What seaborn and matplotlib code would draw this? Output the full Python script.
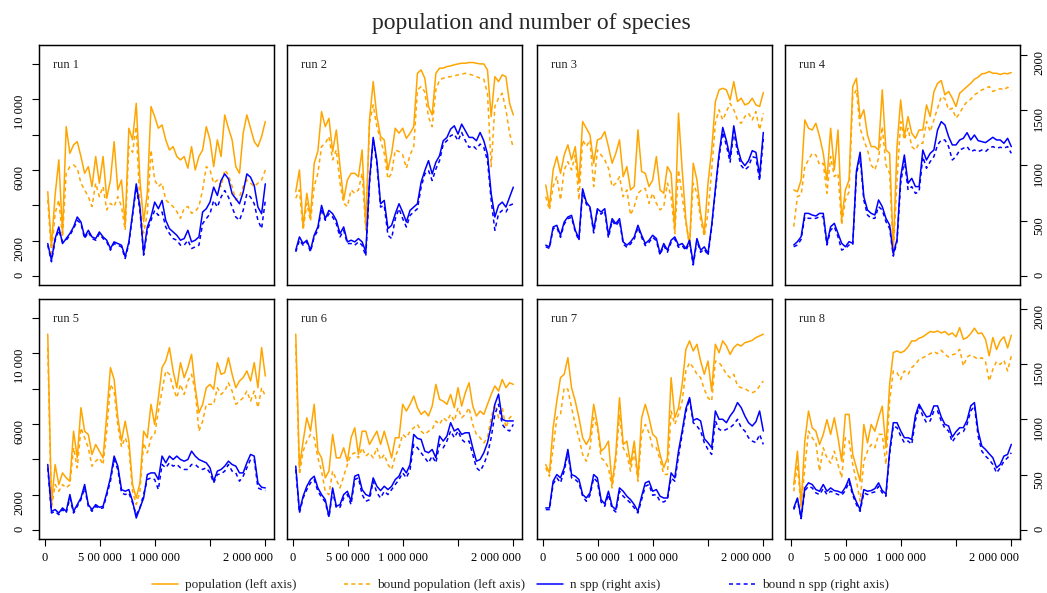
import numpy as np
import seaborn as sns
import matplotlib.pyplot as plt
from matplotlib.lines import Line2D
from matplotlib.transforms import ScaledTranslation

# values, evenly spaced from t = 25 000 to t = 2 000 000
# population (left axis)
pop_1 = [4770, 1660, 4590, 6570, 2415, 8450, 6940, 7420, 7600, 6760,
         5810, 6190, 5060, 6760, 5250, 6760, 4400, 5430, 7600, 4870,
         5430, 2890, 8360, 7700, 9770, 5430, 3080, 4680, 9590, 9020,
         8360, 8550, 7700, 7130, 7320, 6760, 6570, 6760, 6100, 7320,
         6000, 6760, 7130, 8450, 7700, 6190, 7700, 6760, 9110, 8360,
         7700, 6190, 5810, 8080, 9110, 8360, 7600, 7320, 7890, 8740]
pop_2 = [4770, 6000, 2790, 4680, 3360, 6380, 7060, 9300, 8450, 8920,
         7030, 8260, 6190, 4300, 5430, 5810, 5810, 5620, 7130, 2790,
         8830, 11000, 9020, 7890, 7700, 6000, 6940, 8360, 8080, 8360,
         7790, 8080, 8450, 11470, 11660, 11190, 9590, 9110, 11470, 11760,
         11760, 11850, 11890, 11950, 12000, 12040, 12040, 12080, 12080, 12040,
         12000, 12000, 11660, 9020, 11280, 11000, 11380, 11280, 9770, 9110]
pop_3 = [5150, 3930, 6000, 6760, 5810, 6850, 7420, 6570, 7320, 5250,
         8740, 8360, 7980, 6380, 7700, 7790, 8170, 7320, 6380, 6940,
         7700, 5620, 6190, 4870, 5060, 8270, 5910, 5810, 5060, 5430,
         6760, 4870, 4680, 6190, 5810, 2600, 9210, 6000, 3170, 1660,
         6380, 5430, 3550, 2420, 5250, 7130, 9870, 10530, 10620, 10530,
         9960, 11000, 9870, 10060, 9680, 9770, 10060, 9680, 9590, 10380]
pop_4 = [4870, 4770, 5430, 8830, 8360, 8260, 8640, 7890, 6940, 5430,
         8360, 6000, 8260, 3170, 4870, 5430, 10720, 11190, 8900, 9400,
         7980, 7320, 7320, 7130, 10530, 7130, 6940, 1500, 7320, 9960,
         7890, 9020, 8080, 7790, 8260, 8260, 9680, 9020, 10420, 10900,
         11060, 10250, 10440, 10060, 9590, 10340, 10530, 10720, 10900, 11130,
         11250, 11440, 11470, 11570, 11470, 11470, 11400, 11470, 11440, 11510]
pop_5 = [11080, 1440, 3700, 2570, 3230, 2950, 2760, 5590, 4080, 6920,
         5590, 5400, 4270, 4840, 4460, 4080, 6540, 9190, 8520, 6350,
         5030, 6160, 5030, 2570, 1810, 2660, 5590, 5220, 7110, 5970,
         7480, 9190, 9560, 10320, 9000, 8050, 9470, 8620, 9190, 9940,
         8050, 6630, 7110, 8050, 8240, 7960, 9470, 8810, 8900, 9750,
         8810, 8050, 8430, 8620, 9000, 8430, 9470, 8050, 10320, 8710]
pop_6 = [11080, 3520, 5030, 6350, 5600, 7110, 4460, 4080, 2950, 3330,
         5410, 4080, 4080, 4650, 3890, 5220, 5780, 4270, 5590, 5590,
         4840, 5220, 5590, 4840, 5590, 4840, 4080, 5220, 5220, 7110,
         6730, 7110, 7580, 6920, 6540, 6730, 6450, 7010, 8240, 7390,
         7290, 7110, 7670, 6920, 8050, 7010, 7770, 8330, 7010, 6450,
         6730, 6540, 7110, 7670, 8150, 7860, 8520, 8050, 8330, 8240]
pop_7 = [3700, 3230, 5790, 7290, 8620, 8810, 9750, 8050, 7290, 6350,
         5220, 4840, 5220, 7110, 5970, 4460, 4650, 5030, 2570, 4300,
         7480, 4840, 5030, 3700, 5030, 2950, 6350, 7110, 6350, 5410,
         5220, 4270, 3520, 4080, 8620, 6350, 6920, 8240, 10220, 10700,
         10130, 10510, 9560, 8810, 9560, 7860, 10510, 10030, 10700, 10410,
         9940, 10320, 10510, 10410, 10600, 10660, 10730, 10890, 10980, 11080]
pop_8 = [2570, 4460, 1440, 5030, 6730, 5780, 5590, 4840, 5410, 6240,
         5410, 6350, 5220, 3890, 6540, 6540, 4270, 3520, 2760, 5970,
         4930, 5970, 5590, 6350, 7010, 4650, 8240, 10040, 10130, 10030,
         10130, 10360, 10700, 10700, 10850, 10930, 11080, 11230, 11190, 11260,
         11150, 11230, 11040, 11150, 10930, 11450, 10790, 10890, 11110, 11420,
         11110, 11150, 10790, 9850, 10890, 10210, 10700, 10930, 10300, 11020]

# bound population (left axis)
bpop_1 = [4300, 1280, 3550, 4300, 2200, 5810, 6190, 6280, 6100, 5250,
          4870, 4490, 3930, 5250, 4490, 5060, 3740, 4110, 3930, 4490,
          3930, 2600, 7320, 7000, 8450, 3930, 2420, 3550, 7130, 5430,
          5060, 5250, 4300, 4110, 3930, 3640, 3260, 3830, 3930, 3550,
          3640, 3930, 4870, 6190, 6000, 5250, 5430, 5060, 6000, 5720,
          5060, 4300, 4490, 5060, 5430, 5250, 5060, 5250, 5430, 6000]
bpop_2 = [4400, 4870, 2600, 4110, 3100, 5060, 5810, 7320, 7510, 7890,
          6570, 7130, 5250, 4110, 3930, 4870, 4680, 4870, 5810, 2600,
          8640, 9680, 8450, 7700, 6940, 5500, 5810, 7130, 7040, 6850,
          6100, 6850, 7320, 10530, 10720, 10420, 9000, 8450, 10530, 11100,
          11190, 11250, 11280, 11320, 11380, 11420, 11470, 11420, 11360, 11280,
          11190, 11130, 10340, 6190, 9590, 10060, 10340, 9400, 8080, 7230]
bpop_3 = [4490, 3740, 5060, 5620, 4300, 6000, 6470, 6000, 6850, 4300,
          7700, 7320, 7700, 5060, 7130, 6850, 6570, 6100, 5060, 5250,
          5620, 4490, 4870, 3450, 3930, 4680, 4870, 4960, 4110, 4680,
          4110, 3740, 3930, 5250, 4490, 2400, 6000, 4490, 2990, 1800,
          5250, 4680, 3200, 2240, 3550, 6000, 8640, 9400, 8830, 9300,
          9770, 9400, 8830, 8640, 9020, 9210, 8830, 9300, 8270, 9210]
bpop_4 = [2790, 4490, 4590, 6190, 6570, 6940, 6850, 6280, 6380, 4680,
          6760, 5620, 5810, 2900, 4300, 4770, 10150, 10530, 8360, 7700,
          7130, 6280, 6000, 6660, 8450, 6280, 5810, 1300, 5430, 8740,
          7700, 8360, 7320, 7130, 7510, 7510, 8740, 8170, 8830, 9490,
          10150, 10030, 9400, 9490, 8930, 9210, 9590, 9870, 10000, 10250,
          10380, 10530, 10600, 10720, 10440, 10530, 10600, 10530, 10680, 10500]
bpop_5 = [10320, 1250, 2570, 2190, 2570, 2380, 2570, 4650, 3520, 5780,
          5220, 4650, 3610, 3890, 4080, 3700, 5590, 8240, 7860, 5900,
          4700, 5220, 4650, 2190, 1440, 2190, 4930, 4360, 5220, 5410,
          6730, 7860, 9000, 8810, 8050, 7480, 8240, 7670, 8430, 8810,
          7860, 5590, 6160, 7110, 7110, 7110, 8050, 7670, 7860, 8330,
          7860, 7110, 7290, 7480, 7860, 7290, 7860, 6920, 8050, 7580]
bpop_6 = [10510, 3140, 4460, 5030, 5410, 5220, 4080, 3330, 2190, 2000,
          3330, 2850, 2380, 3040, 3700, 4270, 4370, 4080, 4650, 4180,
          4370, 4080, 4650, 3970, 4270, 3700, 3420, 4180, 4650, 5410,
          5220, 5590, 5780, 5970, 5590, 5410, 5590, 5690, 6160, 5970,
          6350, 6160, 6540, 6160, 6920, 6350, 6540, 6920, 5970, 5410,
          5220, 4930, 5220, 6350, 7110, 6350, 6920, 5780, 6350, 6540]
bpop_7 = [3520, 3040, 4650, 6350, 6540, 8050, 7960, 6920, 5970, 5220,
          4270, 3890, 4650, 6350, 5780, 4080, 3890, 3520, 2380, 3890,
          6540, 4650, 4270, 3330, 4460, 2760, 5410, 5970, 5500, 4650,
          4650, 3990, 3140, 3140, 6730, 5970, 6540, 7290, 9000, 9470,
          9190, 8810, 8620, 7960, 7480, 7290, 9560, 9470, 9190, 8810,
          8620, 8810, 8150, 8050, 8010, 7860, 7770, 7860, 8150, 8430]
bpop_8 = [2190, 3700, 1250, 3520, 5590, 5220, 4930, 3330, 4650, 4080,
          3780, 4460, 3700, 2950, 5220, 5030, 3700, 2760, 1630, 3890,
          4460, 4840, 4650, 5410, 5410, 3700, 7300, 9000, 8900, 8520,
          9000, 8810, 9190, 9370, 9660, 9750, 9850, 9980, 10090, 9980,
          10170, 9940, 9790, 9910, 9980, 10220, 9280, 9790, 9910, 9790,
          9660, 9750, 9530, 8430, 9090, 9530, 9370, 9600, 9000, 9850]

# n spp (right axis)
nspp_1 = [294, 144, 339, 444, 294, 339, 384, 444, 534, 489,
          354, 414, 354, 339, 399, 354, 324, 249, 309, 294,
          279, 174, 309, 564, 834, 624, 204, 444, 534, 669,
          609, 684, 504, 429, 399, 369, 324, 339, 414, 309,
          324, 354, 579, 609, 669, 804, 729, 864, 924, 879,
          744, 699, 654, 759, 924, 894, 819, 624, 564, 834]
nspp_2 = [234, 354, 294, 324, 234, 369, 444, 639, 519, 594,
          564, 504, 384, 444, 309, 324, 309, 339, 309, 219,
          864, 1254, 1044, 654, 684, 429, 459, 564, 654, 579,
          489, 594, 624, 654, 849, 954, 1044, 924, 1029, 1089,
          1224, 1254, 1329, 1359, 1284, 1374, 1314, 1254, 1254, 1224,
          1299, 1224, 1104, 744, 534, 639, 669, 624, 714, 804]
nspp_3 = [279, 264, 444, 459, 369, 489, 534, 549, 414, 339,
          789, 669, 624, 414, 609, 579, 609, 369, 519, 474,
          519, 309, 279, 309, 354, 459, 369, 294, 324, 369,
          339, 204, 294, 234, 324, 354, 279, 294, 249, 324,
          114, 339, 234, 264, 204, 459, 789, 1104, 1344, 1224,
          1074, 1359, 1164, 1044, 999, 1044, 1134, 1119, 909, 1299]
nspp_4 = [281, 311, 356, 567, 567, 552, 543, 567, 567, 296,
          446, 477, 386, 296, 265, 311, 296, 950, 1120, 718,
          597, 567, 552, 688, 628, 522, 462, 200, 330, 899,
          1095, 839, 884, 809, 809, 1140, 1050, 1110, 1140, 1321,
          1397, 1367, 1261, 1186, 1186, 1231, 1246, 1297, 1231, 1276,
          1225, 1216, 1207, 1231, 1255, 1231, 1231, 1201, 1246, 1171]
nspp_5 = [593, 169, 185, 154, 200, 169, 321, 169, 230, 290,
          412, 230, 185, 230, 206, 215, 336, 472, 669, 578,
          366, 351, 366, 260, 109, 200, 290, 502, 517, 517,
          457, 669, 608, 669, 638, 669, 638, 623, 638, 714,
          669, 638, 623, 608, 563, 442, 533, 548, 578, 623,
          593, 578, 517, 517, 608, 684, 669, 427, 387, 381]
nspp_6 = [578, 169, 306, 396, 457, 487, 381, 321, 275, 124,
          381, 215, 230, 321, 351, 260, 487, 502, 366, 321,
          306, 472, 396, 357, 396, 366, 396, 457, 487, 563,
          517, 593, 865, 829, 820, 714, 699, 729, 654, 850,
          805, 850, 971, 896, 917, 865, 880, 880, 744, 623,
          638, 699, 790, 941, 1138, 1229, 1002, 987, 987, 987]
nspp_7 = [200, 200, 442, 502, 472, 563, 729, 502, 487, 457,
          321, 290, 336, 502, 472, 275, 236, 351, 215, 185,
          381, 351, 306, 275, 230, 169, 306, 427, 442, 351,
          366, 306, 290, 290, 517, 472, 714, 896, 1098, 1198,
          992, 1008, 987, 826, 790, 744, 1077, 1002, 1002, 971,
          1032, 1077, 1153, 1108, 1032, 971, 941, 980, 1077, 896]
nspp_8 = [200, 290, 109, 381, 427, 412, 366, 351, 412, 351,
          381, 357, 351, 336, 387, 466, 336, 254, 185, 366,
          351, 357, 375, 427, 357, 327, 714, 971, 971, 896,
          835, 835, 820, 1038, 1138, 1077, 1023, 1032, 1123, 1123,
          1023, 956, 941, 841, 890, 926, 926, 993, 1123, 1153,
          896, 760, 729, 690, 654, 563, 593, 669, 684, 775]

# bound n spp (right axis)
bnspp_1 = [279, 129, 324, 414, 309, 324, 369, 429, 504, 474,
           339, 399, 339, 324, 384, 339, 309, 234, 294, 279,
           264, 159, 294, 549, 804, 594, 189, 414, 504, 594,
           549, 579, 444, 384, 339, 324, 279, 279, 324, 249,
           264, 279, 474, 519, 564, 684, 624, 714, 774, 714,
           624, 534, 504, 594, 744, 714, 654, 504, 429, 684]
bnspp_2 = [219, 324, 279, 309, 219, 354, 414, 609, 504, 564,
           534, 474, 354, 414, 294, 294, 279, 309, 279, 180,
           834, 1239, 1014, 624, 639, 369, 339, 519, 609, 519,
           444, 549, 579, 609, 804, 924, 954, 864, 969, 1044,
           1194, 1224, 1269, 1284, 1224, 1299, 1224, 1164, 1179, 1149,
           1194, 1164, 1044, 684, 414, 564, 594, 579, 639, 654]
bnspp_3 = [265, 250, 430, 440, 350, 470, 520, 530, 400, 320,
           760, 650, 610, 390, 590, 560, 590, 345, 500, 455,
           500, 290, 260, 290, 335, 440, 350, 275, 305, 350,
           320, 190, 275, 215, 305, 335, 260, 275, 230, 305,
           100, 320, 215, 245, 185, 440, 770, 1070, 1300, 1180,
           1030, 1310, 1120, 1000, 960, 990, 1080, 1070, 860, 1240]
bnspp_4 = [265, 281, 332, 537, 522, 522, 522, 537, 537, 281,
           416, 446, 356, 235, 250, 281, 281, 920, 1080, 688,
           552, 522, 522, 628, 597, 492, 431, 180, 310, 839,
           1050, 778, 809, 748, 764, 1080, 975, 1035, 1080, 1186,
           1231, 1231, 1171, 1050, 1080, 1140, 1156, 1171, 1125, 1140,
           1125, 1140, 1125, 1156, 1171, 1156, 1165, 1156, 1171, 1110]
bnspp_5 = [563, 154, 169, 139, 185, 154, 290, 154, 215, 275,
           381, 215, 169, 215, 194, 200, 315, 442, 638, 548,
           336, 321, 336, 245, 139, 200, 321, 457, 472, 457,
           366, 593, 563, 608, 578, 593, 563, 548, 548, 593,
           593, 563, 548, 563, 517, 427, 502, 508, 533, 593,
           533, 517, 442, 487, 563, 638, 638, 381, 366, 357]
bnspp_6 = [548, 154, 290, 366, 427, 457, 351, 297, 254, 115,
           351, 200, 206, 290, 321, 230, 457, 472, 321, 260,
           275, 442, 336, 290, 351, 321, 366, 412, 457, 517,
           472, 548, 775, 744, 699, 654, 608, 669, 608, 775,
           744, 805, 896, 835, 896, 820, 790, 805, 684, 563,
           533, 593, 684, 835, 1047, 1138, 956, 911, 896, 956]
bnspp_7 = [185, 185, 417, 472, 427, 533, 696, 472, 457, 427,
           306, 260, 315, 472, 436, 254, 215, 321, 194, 163,
           351, 306, 275, 245, 200, 154, 275, 396, 412, 315,
           321, 260, 254, 275, 472, 442, 669, 865, 1068, 1190,
           971, 941, 896, 790, 729, 684, 987, 911, 896, 911,
           926, 956, 1002, 926, 896, 835, 805, 790, 865, 775]
bnspp_8 = [185, 275, 103, 357, 396, 381, 336, 321, 375, 321,
           351, 336, 321, 315, 357, 436, 315, 230, 169, 336,
           321, 336, 345, 396, 336, 306, 684, 941, 926, 850,
           790, 805, 775, 992, 1120, 1032, 971, 987, 1077, 1077,
           987, 920, 896, 796, 850, 880, 890, 956, 1077, 1123,
           850, 714, 669, 638, 593, 517, 563, 623, 654, 699]

run_names = ["run 1", "run 2", "run 3", "run 4", "run 5", "run 6", "run 7", "run 8"]
left_ticks = [0, 2000, 4000, 6000, 8000, 10000, 12000]
left_labels = ["0", "2000", "", "6000", "", "10 000", ""]
right_ticks = [0, 500, 1000, 1500, 2000]
right_labels = ["0", "500", "1000", "1500", "2000"]
x_ticks = [0, 500000, 1000000, 1500000, 2000000]
x_labels = ["0", "5 00 000", "1 000 000", "", "2 000 000"]
legend_labels = ["population (left axis)", "bound population (left axis)",
                 "n spp (right axis)", "bound n spp (right axis)"]

ORANGE = "#FFA500"
BLUE = "#0000FF"
DASH = (0, (2.6, 2.2))
LW = 1.1

sns.set_style("ticks")
plt.rcParams['font.family'] = ['Liberation Serif', 'DejaVu Serif']
plt.rcParams['axes.edgecolor'] = 'black'
plt.rcParams['axes.linewidth'] = 0.9
plt.rcParams['xtick.color'] = 'black'
plt.rcParams['ytick.color'] = 'black'

W, H = 1047, 593
fig = plt.figure(figsize=(W / 100, H / 100), dpi=100)

lefts = [39, 287, 537, 785]
tops = [45, 299]
pw, ph = 235, 240

runs = [(pop_1, bpop_1, nspp_1, bnspp_1), (pop_2, bpop_2, nspp_2, bnspp_2),
        (pop_3, bpop_3, nspp_3, bnspp_3), (pop_4, bpop_4, nspp_4, bnspp_4),
        (pop_5, bpop_5, nspp_5, bnspp_5), (pop_6, bpop_6, nspp_6, bnspp_6),
        (pop_7, bpop_7, nspp_7, bnspp_7), (pop_8, bpop_8, nspp_8, bnspp_8)]


def t_axis(vals):
    return np.linspace(25000, 2000000, len(vals))


for i, (pop, bpop, nspp, bnspp) in enumerate(runs):
    r, c = divmod(i, 4)
    ax = fig.add_axes([lefts[c] / W, 1 - (tops[r] + ph) / H, pw / W, ph / H])
    ax2 = ax.twinx()

    sns.lineplot(x=t_axis(pop), y=pop, ax=ax, color=ORANGE, lw=LW,
                 estimator=None, sort=False)
    sns.lineplot(x=t_axis(bpop), y=bpop, ax=ax, color=ORANGE, lw=LW,
                 linestyle=DASH, estimator=None, sort=False)
    sns.lineplot(x=t_axis(nspp), y=nspp, ax=ax2, color=BLUE, lw=LW,
                 estimator=None, sort=False)
    sns.lineplot(x=t_axis(bnspp), y=bnspp, ax=ax2, color=BLUE, lw=LW,
                 linestyle=DASH, estimator=None, sort=False)

    ax.set_xlim(-54500, 2079000)
    ax.set_ylim(-510, 13070)
    ax2.set_ylim(-81, 2090)
    ax.set_xlabel("")
    ax.set_ylabel("")
    ax2.set_ylabel("")

    for a in (ax, ax2):
        a.tick_params(direction="out", length=5, width=0.8, labelsize=9, pad=4.5)
        for s in a.spines.values():
            s.set_linewidth(0.9)
            s.set_color("black")
    ax.tick_params(top=False, right=False)

    if c == 0:
        ax.set_yticks(left_ticks, left_labels)
        ax.tick_params(axis="y", left=True, labelleft=True, labelrotation=90)
    else:
        ax.tick_params(axis="y", left=False, labelleft=False)

    if c == 3:
        ax2.set_yticks(right_ticks, right_labels)
        ax2.tick_params(axis="y", right=True, labelright=True, labelrotation=90)
    else:
        ax2.tick_params(axis="y", right=False, labelright=False)

    if r == 1:
        ax.set_xticks(x_ticks, x_labels)
        ax.tick_params(axis="x", bottom=True, labelbottom=True)
        last = ax.get_xticklabels()[-1]
        last.set_transform(last.get_transform() +
                           ScaledTranslation(-0.17, 0, fig.dpi_scale_trans))
    else:
        ax.tick_params(axis="x", bottom=False, labelbottom=False)

    ax2.text(0.06, 0.915, run_names[i], transform=ax.transAxes,
             fontsize=9, va="center", ha="left")

fig.text(531 / W, 1 - 23 / H, "population and number of species",
         ha="center", va="center", fontsize=17)

handles = [Line2D([], [], color=ORANGE, lw=LW),
           Line2D([], [], color=ORANGE, lw=LW, linestyle=DASH),
           Line2D([], [], color=BLUE, lw=LW),
           Line2D([], [], color=BLUE, lw=LW, linestyle=DASH)]
leg_x = [152, 344, 537, 729]
for h, lab, lx in zip(handles, legend_labels, leg_x):
    fig.legend(handles=[h], labels=[lab], loc="center left",
               bbox_to_anchor=(lx / W, 1 - 585 / H), frameon=False,
               fontsize=9.5, handlelength=2.0, handletextpad=0.5,
               borderpad=0, borderaxespad=0)

fig.savefig("out.png", dpi=100)
